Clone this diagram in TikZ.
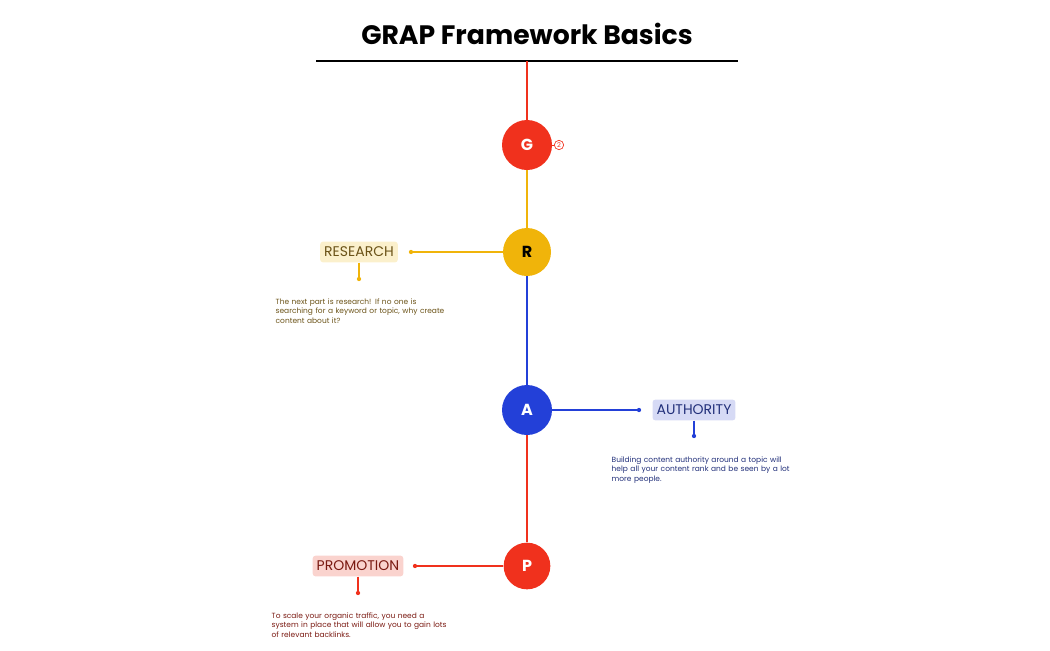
\documentclass[tikz,border=0pt]{standalone}
\usepackage{fontspec}
\setmainfont{Poppins}
\hyphenpenalty=10000
\definecolor{cred}{HTML}{F0311D}
\definecolor{cgold}{HTML}{F0B40A}
\definecolor{cblue}{HTML}{2340D8}
\definecolor{lgold}{HTML}{FBF0CC}
\definecolor{lblue}{HTML}{D6DAF5}
\definecolor{lred}{HTML}{FAD3CE}
\definecolor{tgold}{HTML}{6B5318}
\definecolor{tblue}{HTML}{22307A}
\definecolor{tred}{HTML}{7A1A12}
\begin{document}
\begin{tikzpicture}[x=0.75pt,y=-0.75pt,
  hub/.style={circle,minimum size=#1,inner sep=0,text=white,font=\fontsize{12}{14}\selectfont\bfseries},
  tag/.style={rounded corners=2pt,inner xsep=3pt,inner ysep=4pt,font=\fontsize{10.5}{12}\selectfont},
  note/.style={anchor=north west,align=left,text width=135pt,font=\fontsize{5.6}{7}\selectfont},
  dotc/.style={circle,inner sep=0,minimum size=3.2pt}]
\useasboundingbox (0,0) rectangle (1050,650);
\node[font=\fontsize{20}{24}\selectfont\bfseries] (title) at (527,34) {GRAP Framework Basics};
\coordinate (l1) at (316,61); \coordinate (l2) at (738,61); \coordinate (top) at (527,61);
\draw[line width=0.9pt] (l1) -- (l2);
\node[hub=37.5pt,fill=cred] (G) at (527,145) {G};
\node[hub=36pt,fill=cgold,text=black] (R) at (527,252) {R};
\node[hub=37.5pt,fill=cblue] (A) at (527,410) {A};
\node[hub=35pt,fill=cred] (P) at (527,566) {P};
\draw[cred,line width=1.2pt] (top) -- (G);
\draw[cgold,line width=1.2pt] (G) -- (R);
\draw[cblue,line width=1.2pt] (R) -- (A);
\draw[cred,line width=1.2pt] (A) -- (P);
\node[circle,draw=cred,line width=0.5pt,inner sep=0,minimum size=7pt,text=cred,font=\fontsize{5}{5}\selectfont] (c2) at (559,145) {2};
\draw[cred,line width=0.5pt] (G) -- (c2);
% Research
\node[tag,fill=lgold,text=tgold] (rt) at (359,252) {RESEARCH};
\node[dotc,fill=cgold] (rd1) at (411,252) {};
\node[dotc,fill=cgold] (rd2) at (359,279) {};
\draw[cgold,line width=1pt] (rd1) -- (R);
\draw[cgold,line width=1pt] (rt) -- (rd2);
\node[note,text=tgold] (rn) at (271,294) {The next part is research! If no one is searching for a keyword or topic, why create content about it?};
% Authority
\node[tag,fill=lblue,text=tblue] (at) at (694,410) {AUTHORITY};
\node[dotc,fill=cblue] (ad1) at (639,410) {};
\node[dotc,fill=cblue] (ad2) at (694,436) {};
\draw[cblue,line width=1pt] (A) -- (ad1);
\draw[cblue,line width=1pt] (at) -- (ad2);
\node[note,text=tblue] (an) at (607,452) {Building content authority around a topic will help all your content rank and be seen by a lot more people.};
% Promotion
\node[tag,fill=lred,text=tred] (pt) at (358,566) {PROMOTION};
\node[dotc,fill=cred] (pd1) at (415,566) {};
\node[dotc,fill=cred] (pd2) at (358,593) {};
\draw[cred,line width=1pt] (pd1) -- (P);
\draw[cred,line width=1pt] (pt) -- (pd2);
\node[note,text=tred] (pn) at (267,608) {To scale your organic traffic, you need a system in place that will allow you to gain lots of relevant backlinks.};
\end{tikzpicture}
\end{document}
